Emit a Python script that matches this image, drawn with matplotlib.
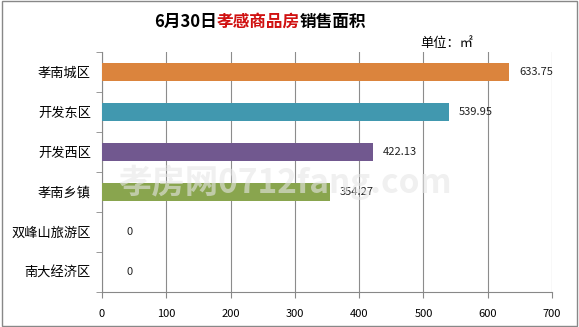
import matplotlib
matplotlib.use("Agg")
import matplotlib.pyplot as plt
import numpy as np

plt.rcParams['font.family'] = ['Noto Sans CJK SC', 'DejaVu Sans']

# sales area on June 30, by district (unit: m2)
districts = ['孝南城区', '开发东区', '开发西区', '孝南乡镇', '双峰山旅游区', '南大经济区']
areas = [633.75, 539.95, 422.13, 354.27, 0, 0]
bar_colors = ['#DB843D', '#4198AF', '#71588F', '#89A54E', '#4F81BD', '#4F81BD']
x_ticks = [0, 100, 200, 300, 400, 500, 600, 700]

fig = plt.figure(figsize=(5.79, 3.27), dpi=100)
ax = fig.add_axes([102 / 579, 1 - 292 / 327, 450 / 579, 240 / 327])

y = np.arange(len(districts))
ax.barh(y, areas, height=0.43, color=bar_colors, zorder=3)

# value labels right of each bar
for yi, v in zip(y, areas):
    label = '0' if v == 0 else f'{v:.2f}'
    off = 18 if v == 0 else 7
    ax.annotate(label, (v, yi), xytext=(off, 0), textcoords='offset points',
                va='center', ha='left', fontsize=8, color='#222222', zorder=4)

ax.set_xlim(0, 700)
ax.set_ylim(len(districts) - 0.5, -0.5)
ax.set_xticks(x_ticks)
ax.set_xticklabels([str(t) for t in x_ticks], fontsize=8)
ax.set_yticks(y)
ax.set_yticklabels(districts, fontsize=9.5)
ax.set_yticks(np.arange(-0.5, len(districts)), minor=True)
ax.tick_params(axis='y', which='major', length=0, pad=8)
ax.tick_params(axis='y', which='minor', length=4, color='#888888')
ax.tick_params(axis='x', length=4, color='#888888', pad=8)
ax.grid(axis='x', color='#8c8c8c', linewidth=0.8, zorder=0)

for side in ['top', 'right']:
    ax.spines[side].set_visible(False)
ax.spines['left'].set_color('#888888')
ax.spines['bottom'].set_color('#888888')

# faint watermark
fig.text(285 / 579, 1 - 182 / 327, '孝房网0712fang.com', fontsize=24, color='#e6e6e6',
         alpha=0.6, ha='center', va='center', zorder=2, fontweight='bold')

# title in three coloured parts
fig.canvas.draw()
renderer = fig.canvas.get_renderer()
parts = [('6月30日', 'black'), ('孝感商品房', '#D01010'), ('销售面积', 'black')]
texts = []
for s, c in parts:
    texts.append(fig.text(0, 1 - 22 / 327, s, fontsize=12, fontweight='bold',
                          color=c, va='center', ha='left'))
widths = [t.get_window_extent(renderer).width for t in texts]
x0 = 260 - sum(widths) / 2
for t, w in zip(texts, widths):
    t.set_x(x0 / 579)
    x0 += w

fig.text(473 / 579, 1 - 43 / 327, '单位：㎡', fontsize=9.5, ha='right', va='center')

# outer border
fig.patches.append(plt.Rectangle((0.003, 0.004), 0.994, 0.992, transform=fig.transFigure,
                                 fill=False, edgecolor='#888888', linewidth=1))

fig.savefig('out.png', dpi=100)
